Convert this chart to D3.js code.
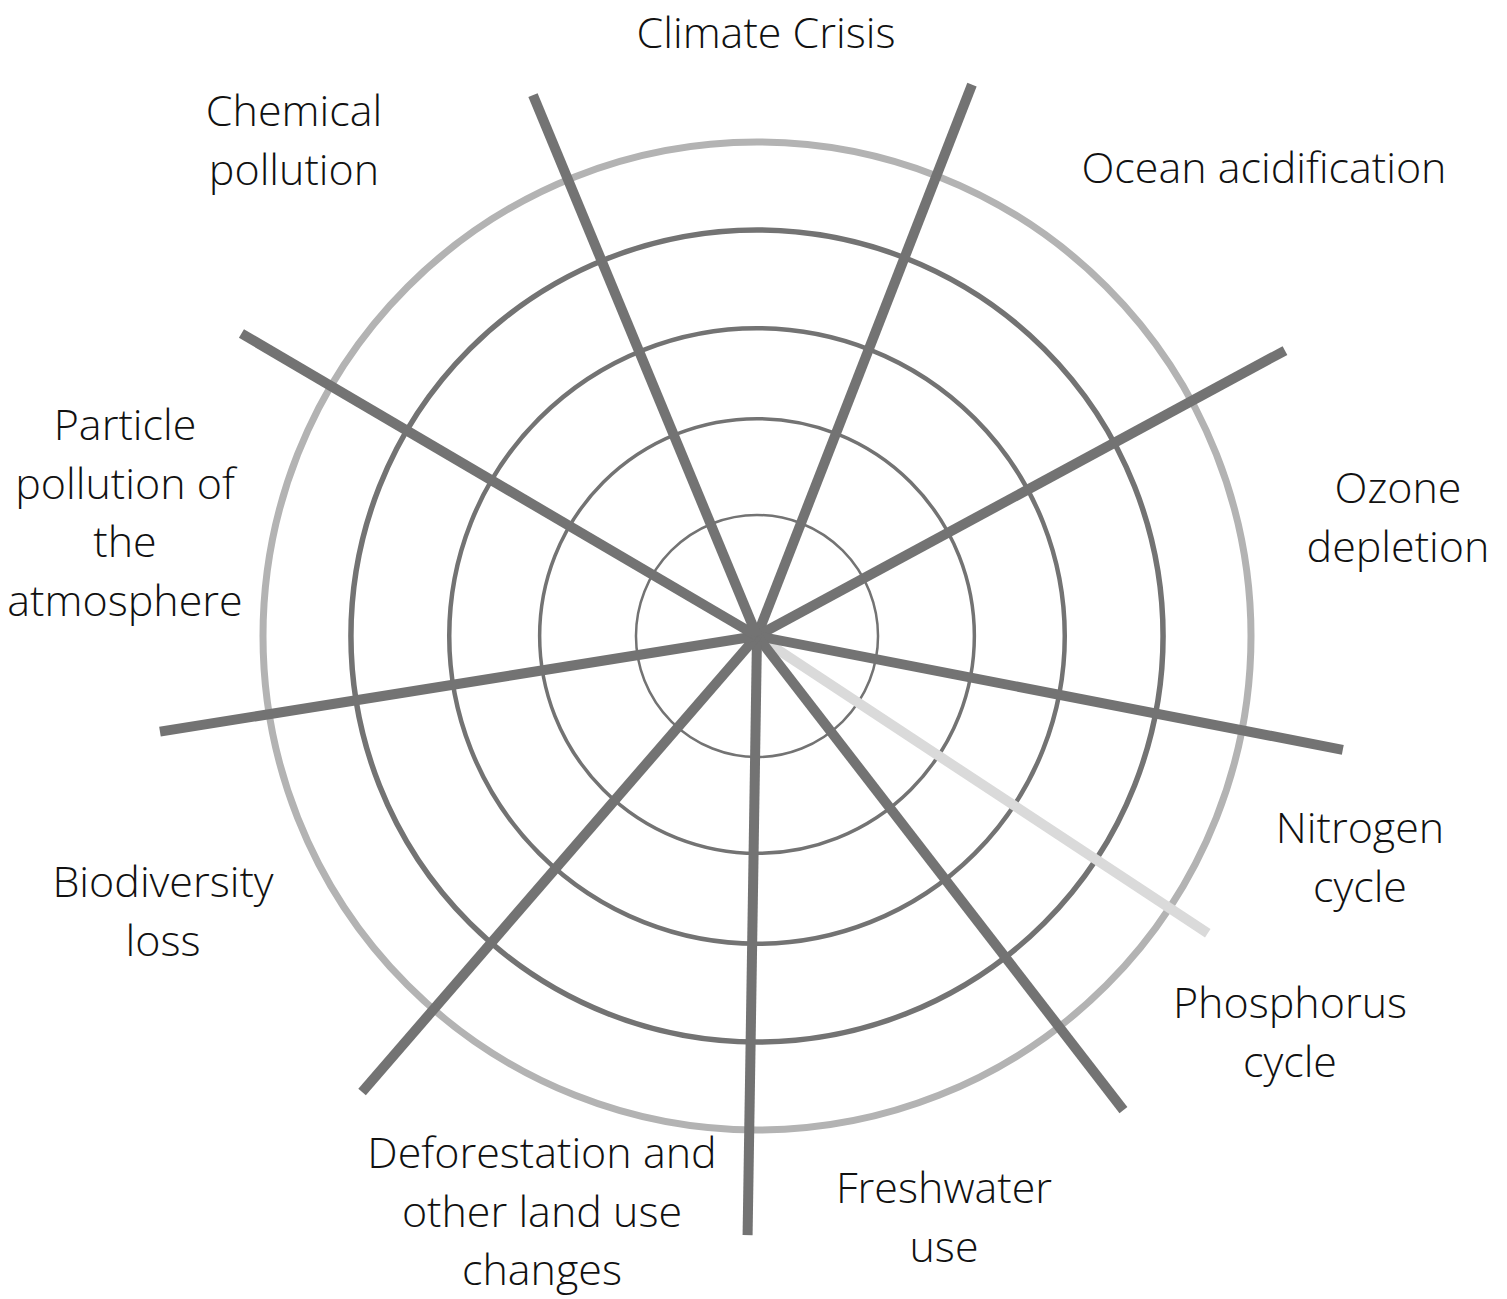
<!DOCTYPE html>
<html>
<head>
<meta charset="utf-8">
<script src="https://cdn.jsdelivr.net/npm/d3@7"></script>
<style>
  html, body { margin: 0; padding: 0; background: #fff; }
  svg { display: block; }
</style>
</head>
<body>
<div id="chart"><svg></svg></div>
<script>
// categories, clockwise from the top
const categories = [
  ["Climate Crisis"],
  ["Ocean acidification"],
  ["Ozone", "depletion"],
  ["Nitrogen", "cycle"],
  ["Phosphorus", "cycle"],
  ["Freshwater", "use"],
  ["Deforestation and", "other land use", "changes"],
  ["Biodiversity", "loss"],
  ["Particle", "pollution of", "the", "atmosphere"],
  ["Chemical", "pollution"]
];

// spokes: angle (degrees clockwise from north) and length (outer ring = 1)
const spokeAngles = [21.3, 61.6, 101.0, 123.4, 142.3, 180.9, 220.9, 260.9, 300.4, 337.5];
const spokeValues = [1.198, 1.215, 1.208, 1.093, 1.213, 1.213, 1.221, 1.224, 1.210, 1.185];
const spokeMuted  = [false, false, false, true, false, false, false, false, false, false];

// concentric rings (outer ring = 1)
const ringLevels = [0.245, 0.44, 0.623, 0.822, 1.0];

draw_boundaries('chart');

function draw_boundaries(containerId) {
  const width = 1507;
  const height = 1299;
  const cx = 757, cy = 636;

  const svg = d3.select(`#${containerId}`).select('svg')
    .attr('width', width)
    .attr('height', height)
    .attr('viewBox', `0 0 ${width} ${height}`);

  const r = d3.scaleLinear().domain([0, 1]).range([0, 494]);
  const toRad = d => d * Math.PI / 180;

  const g = svg.append('g').attr('transform', `translate(${cx},${cy})`);

  // rings
  const ringWidth = [2.5, 3.5, 4.5, 5.5, 7];
  g.selectAll('circle.ring')
    .data(ringLevels)
    .enter().append('circle')
    .attr('class', 'ring')
    .attr('r', d => r(d))
    .attr('fill', 'none')
    .attr('stroke', (d, i) => i === ringLevels.length - 1 ? '#b3b3b3' : '#737373')
    .attr('stroke-width', (d, i) => ringWidth[i]);

  // spokes (muted one drawn first so the dark ones sit on top at the hub)
  const spokes = spokeAngles.map((a, i) => ({ a, v: spokeValues[i], muted: spokeMuted[i] }))
    .sort((p, q) => (q.muted ? 1 : 0) - (p.muted ? 1 : 0));

  g.selectAll('line.spoke')
    .data(spokes)
    .enter().append('line')
    .attr('class', 'spoke')
    .attr('x1', 0).attr('y1', 0)
    .attr('x2', d => d3.pointRadial(toRad(d.a), r(d.v))[0])
    .attr('y2', d => d3.pointRadial(toRad(d.a), r(d.v))[1])
    .attr('stroke', d => d.muted ? '#dadada' : '#737373')
    .attr('stroke-width', 10)
    .attr('stroke-linecap', 'butt');

  // label anchors (centre x, first baseline) relative to the hub
  const labelAnchor = [
    [9, -588], [507, -453], [641, -133], [603, 207], [533, 382],
    [187, 567], [-215, 532], [-594, 261], [-632, -196], [-463, -510]
  ];
  const lineHeight = 58.5;

  const labels = svg.append('g')
    .style('font-family', '"Open Sans", sans-serif')
    .style('font-weight', 300)
    .style('font-size', '43px')
    .style('fill', '#111')
    .attr('text-anchor', 'middle');

  categories.forEach((lines, i) => {
    const [dx, dy] = labelAnchor[i];
    const t = labels.append('text')
      .attr('x', cx + dx)
      .attr('y', cy + dy);
    lines.forEach((line, j) => {
      t.append('tspan')
        .attr('x', cx + dx)
        .attr('dy', j === 0 ? 0 : lineHeight)
        .text(line);
    });
  });
}
</script>
</body>
</html>
